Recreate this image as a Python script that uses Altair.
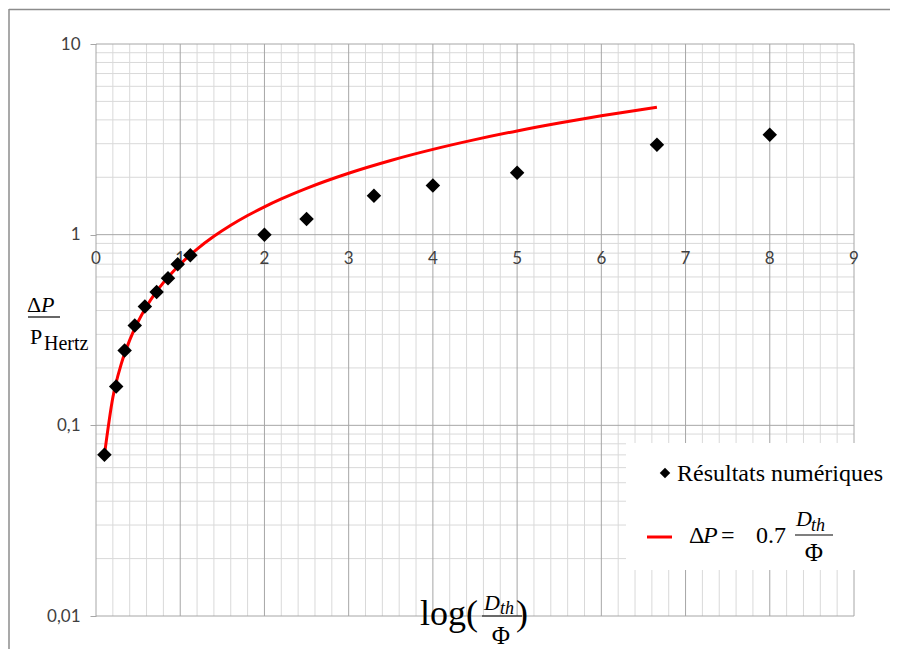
import altair as alt
import pandas as pd

# ---- data ----
x_num = [0.1, 0.24, 0.34, 0.46, 0.58, 0.72, 0.855, 0.97, 1.12, 2.0, 2.5, 3.3, 4.0, 5.0, 6.66, 8.0]
y_num = [0.07, 0.16, 0.247, 0.334, 0.42, 0.50, 0.59, 0.70, 0.78, 1.0, 1.21, 1.6, 1.81, 2.11, 2.96, 3.34]

x_fit = [0.1, 0.2, 0.3, 0.4, 0.5, 0.6, 0.7, 0.8, 0.9, 1.0, 1.2, 1.4, 1.6, 1.8, 2.0, 2.2,
         2.5, 3.0, 3.5, 4.0, 4.5, 5.0, 5.5, 6.0, 6.66]
y_fit = [0.07, 0.14, 0.21, 0.28, 0.35, 0.42, 0.49, 0.56, 0.63, 0.70, 0.84, 0.98, 1.12, 1.26,
         1.40, 1.54, 1.75, 2.10, 2.45, 2.80, 3.15, 3.50, 3.85, 4.20, 4.66]

x_ticks = [0, 1, 2, 3, 4, 5, 6, 7, 8, 9]
y_ticks = [0.01, 0.1, 1, 10]
x_minor = [round(i * 0.2, 1) for i in range(46) if i % 5 != 0]
y_minor = [m * 10.0 ** e for e in (-2, -1, 0) for m in range(2, 10)]

legend_points = "Résultats numériques"

# ---- layout (page pixels of plot origin) ----
LEFT, TOP = 96, 44
W, H = 758, 572

xs = alt.Scale(domain=[0, 9], nice=False, zero=False)
ys = alt.Scale(type="log", domain=[0.01, 10], nice=False)

MINOR = "#d9d9d9"
MAJOR = "#a6a6a6"

yaxis = alt.Axis(
    values=y_ticks, grid=False, domain=False, ticks=True, tickSize=6,
    tickColor=MAJOR, labelPadding=10, labelFont="Lato", labelFontSize=17,
    labelColor="#404040", title=None,
    labelExpr="replace(format(datum.value, '~g'), '.', ',')")

one = pd.DataFrame({"d": [0]})


def txt(s, px, py, size, style="normal", align="left", baseline="alphabetic",
        font="Liberation Serif", color="black"):
    return alt.Chart(one).mark_text(
        text=s, font=font, fontSize=size, fontStyle=style, align=align,
        baseline=baseline, color=color
    ).encode(x=alt.value(px - LEFT), y=alt.value(py - TOP))


def hline(x1, x2, py, color="black", width=1.2):
    return alt.Chart(one).mark_rule(color=color, strokeWidth=width).encode(
        x=alt.value(x1 - LEFT), x2=alt.value(x2 - LEFT), y=alt.value(py - TOP))


def vline(px, y1, y2, color="black", width=1.2):
    return alt.Chart(one).mark_rule(color=color, strokeWidth=width).encode(
        x=alt.value(px - LEFT), y=alt.value(y1 - TOP), y2=alt.value(y2 - TOP))


gx_minor = alt.Chart(pd.DataFrame({"v": x_minor})).mark_rule(color=MINOR, strokeWidth=1).encode(
    x=alt.X("v:Q", scale=xs, axis=None))
gx_major = alt.Chart(pd.DataFrame({"v": x_ticks})).mark_rule(color=MAJOR, strokeWidth=1).encode(
    x=alt.X("v:Q", scale=xs, axis=None))
gy_minor = alt.Chart(pd.DataFrame({"v": y_minor})).mark_rule(color=MINOR, strokeWidth=1).encode(
    y=alt.Y("v:Q", scale=ys, axis=yaxis))
gy_major = alt.Chart(pd.DataFrame({"v": y_ticks})).mark_rule(color=MAJOR, strokeWidth=1).encode(
    y=alt.Y("v:Q", scale=ys, axis=yaxis))

x_labels = alt.Chart(pd.DataFrame({"v": x_ticks})).mark_text(
    font="Lato", fontSize=17, color="#404040", baseline="middle"
).encode(x=alt.X("v:Q", scale=xs, axis=None), y=alt.value(259 - TOP), text="v:Q")

fit = alt.Chart(pd.DataFrame({"x": x_fit, "y": y_fit})).mark_line(
    color="#ff0000", strokeWidth=3, interpolate="monotone"
).encode(x=alt.X("x:Q", scale=xs, axis=None), y=alt.Y("y:Q", scale=ys, axis=yaxis))

pts = alt.Chart(pd.DataFrame({"x": x_num, "y": y_num})).mark_point(
    shape="diamond", filled=True, color="black", size=210, opacity=1
).encode(x=alt.X("x:Q", scale=xs, axis=None), y=alt.Y("y:Q", scale=ys, axis=yaxis))

# legend box
leg_box = alt.Chart(one).mark_rect(color="white").encode(
    x=alt.value(626 - LEFT), x2=alt.value(898 - LEFT),
    y=alt.value(443 - TOP), y2=alt.value(570 - TOP))
leg_diamond = alt.Chart(one).mark_point(
    shape="diamond", filled=True, color="black", size=110, opacity=1
).encode(x=alt.value(665 - LEFT), y=alt.value(473 - TOP))
leg_text1 = txt(legend_points, 677, 481, 24)
leg_red = hline(647, 672, 537, color="#ff0000", width=3)
leg_parts = [
    txt("Δ", 689, 543, 24),
    txt("P", 703, 543, 24, style="italic"),
    txt("=", 721, 543, 24),
    txt("0.7", 756, 543, 24),
    txt("D", 796, 526, 22, style="italic"),
    txt("th", 811, 531, 18, style="italic"),
    hline(795, 833, 535),
    txt("Φ", 814, 561, 25, align="center"),
]

# x title
xt_parts = [
    txt("log(", 420, 625, 36),
    txt("D", 484, 610, 22, style="italic"),
    txt("th", 500, 614, 18, style="italic"),
    hline(482, 522, 616),
    txt("Φ", 501, 644, 25, align="center"),
    txt(")", 516, 625, 36),
]

# y title
yt_parts = [
    txt("Δ", 27, 312, 22),
    txt("P", 41, 312, 22, style="italic"),
    hline(28, 60, 317),
    txt("P", 30, 344, 22),
    txt("Hertz", 44, 350, 20),
]

# outer frame (top and left edges)
frame = [
    hline(9, 900, 9.5, color="#8c8c8c", width=1.5),
    vline(9, 9, 700, color="#8c8c8c", width=1.5),
]

chart = alt.layer(
    gx_minor, gy_minor, gx_major, gy_major, x_labels, fit, pts,
    leg_box, leg_diamond, leg_text1, leg_red, *leg_parts,
    *xt_parts, *yt_parts, *frame
).properties(
    width=W, height=H,
    padding={"left": 88, "top": 36, "right": 36, "bottom": 33},
    autosize=alt.AutoSizeParams(type="none"),
    background="white",
).configure_view(stroke=None)

chart.save("out.html", embed_options={"renderer": "svg", "actions": False})
